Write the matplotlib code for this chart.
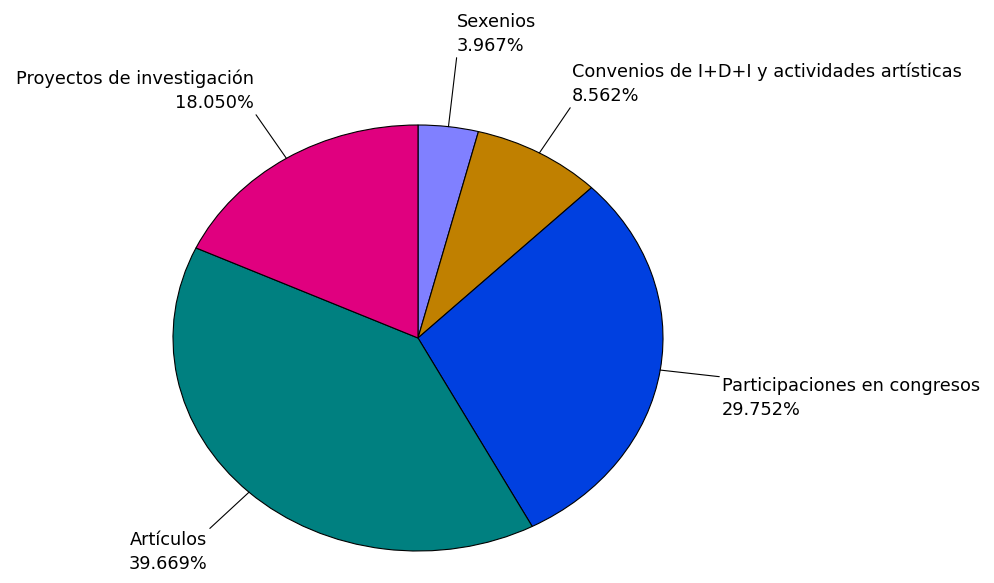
import matplotlib.pyplot as plt
import numpy as np

categorias = ['Sexenios', 'Convenios de I+D+I y actividades artísticas',
              'Participaciones en congresos', 'Artículos', 'Proyectos de investigación']
porcentajes = [3.967, 8.562, 29.752, 39.669, 18.050]
colores = ['#8080FF', '#C08000', '#0040E0', '#008080', '#E0007F']

# donde va cada etiqueta (coordenadas del eje) y con que alineacion
pos_txt = [(0.159, 1.329), (0.629, 1.094), (1.241, -0.183), (-0.861, -0.906), (-0.669, 1.061)]
alin = [('left', 'bottom'), ('left', 'bottom'), ('left', 'top'), ('right', 'top'), ('right', 'bottom')]

fig = plt.figure(figsize=(9.94, 5.83), dpi=100)
ax = fig.add_axes([173 / 994, 32 / 583, 490 / 994, 426 / 583])

cunas, _ = ax.pie(porcentajes, colors=colores, startangle=90, counterclock=False,
                  wedgeprops={'edgecolor': 'black', 'linewidth': 0.8})
ax.set_aspect('auto')
ax.set_xlim(-1, 1)
ax.set_ylim(-1, 1)

for w, nom, p, xy_t, (ha, va) in zip(cunas, categorias, porcentajes, pos_txt, alin):
    ang = np.deg2rad((w.theta1 + w.theta2) / 2)
    x, y = np.cos(ang), np.sin(ang)
    rel = (0 if ha == 'left' else 1, 0 if va == 'bottom' else 1)
    ax.annotate(f'{nom}\n{p:.3f}%', xy=(x, y), xytext=xy_t, ha=ha, va=va,
                fontsize=12.8, linespacing=1.4, annotation_clip=False,
                arrowprops=dict(arrowstyle='-', color='black', lw=0.8,
                                shrinkA=0, shrinkB=0, relpos=rel))

plt.savefig('out.png', dpi=100)
